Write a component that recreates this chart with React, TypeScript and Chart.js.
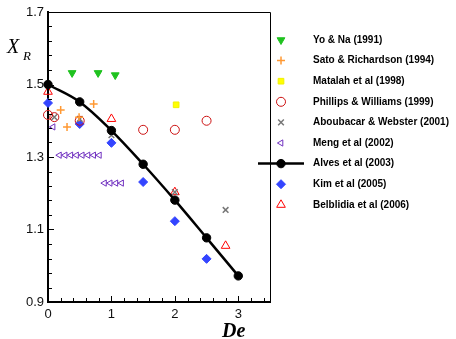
import React, { useEffect, useRef } from 'react';
import { Chart, registerables } from 'chart.js';
import { drawPoint } from 'chart.js/helpers';
Chart.register(...registerables);

const seriesLabels = [
  'Yo & Na (1991)',
  'Sato & Richardson (1994)',
  'Matalah et al (1998)',
  'Phillips & Williams (1999)',
  'Aboubacar & Webster (2001)',
  'Meng et al (2002)',
  'Alves et al (2003)',
  'Kim et al (2005)',
  'Belblidia et al (2006)',
];

const yoNaX = [0.38, 0.79, 1.06];
const yoNaY = [1.532, 1.532, 1.526];
const satoX = [0.2, 0.3, 0.49, 0.72];
const satoY = [1.43, 1.383, 1.41, 1.446];
const matalahX = [2.02];
const matalahY = [1.444];
const phillipsX = [0.0, 0.1, 0.5, 1.5, 2.0, 2.5];
const phillipsY = [1.416, 1.41, 1.4, 1.375, 1.375, 1.4];
const aboubacarX = [0.1, 0.5, 1.0, 2.0, 2.8];
const aboubacarY = [1.41, 1.405, 1.36, 1.203, 1.154];
const mengX = [0.08, 0.18, 0.27, 0.36, 0.45, 0.54, 0.63, 0.72, 0.81, 0.89, 0.98, 1.07, 1.16];
const mengY = [1.383, 1.305, 1.305, 1.305, 1.305, 1.305, 1.305, 1.305, 1.305, 1.228, 1.228, 1.228, 1.228];
const alvesX = [0, 0.5, 1.0, 1.5, 2.0, 2.5, 3.0];
const alvesY = [1.5, 1.452, 1.373, 1.28, 1.181, 1.077, 0.972];
const kimX = [0, 0.5, 1.0, 1.5, 2.0, 2.5];
const kimY = [1.449, 1.391, 1.339, 1.231, 1.123, 1.019];
const belblidiaX = [0, 1.0, 2.0, 2.8];
const belblidiaY = [1.48, 1.405, 1.203, 1.055];

const xTickValues = [0, 1, 2, 3];
const yTickValues = [0.9, 1.1, 1.3, 1.5, 1.7];

const pts = (xs: number[], ys: number[]) => xs.map((x, i) => ({ x, y: ys[i] }));

export default function App() {
  const ref = useRef<HTMLCanvasElement | null>(null);
  useEffect(() => {
    if (!ref.current) return;
    const common = { showLine: false, clip: false as any };
    const datasets: any[] = [
      { ...common, label: seriesLabels[0], data: pts(yoNaX, yoNaY), pointStyle: 'triangle', rotation: 180, radius: 4.5, backgroundColor: '#1fc21f', borderColor: '#1fc21f', borderWidth: 1 },
      { ...common, label: seriesLabels[1], data: pts(satoX, satoY), pointStyle: 'cross', radius: 4, backgroundColor: '#ff9933', borderColor: '#ff9933', borderWidth: 1.5 },
      { ...common, label: seriesLabels[2], data: pts(matalahX, matalahY), pointStyle: 'rect', radius: 4, backgroundColor: '#ffff00', borderColor: '#f0f000', borderWidth: 1 },
      { ...common, label: seriesLabels[3], data: pts(phillipsX, phillipsY), pointStyle: 'circle', radius: 4.5, backgroundColor: 'rgba(0,0,0,0)', borderColor: '#cc1111', borderWidth: 1 },
      { ...common, label: seriesLabels[4], data: pts(aboubacarX, aboubacarY), pointStyle: 'crossRot', radius: 4, backgroundColor: '#777777', borderColor: '#777777', borderWidth: 1.5 },
      { ...common, label: seriesLabels[5], data: pts(mengX, mengY), pointStyle: 'triangle', rotation: 270, radius: 3.6, backgroundColor: 'rgba(0,0,0,0)', borderColor: '#7030c0', borderWidth: 1 },
      { label: seriesLabels[6], data: pts(alvesX, alvesY), showLine: true, clip: false, tension: 0.35, pointStyle: 'circle', radius: 4.2, pointBorderWidth: 1, backgroundColor: '#000', borderColor: '#000', borderWidth: 2.5, order: -1, isLine: true },
      { ...common, label: seriesLabels[7], data: pts(kimX, kimY), pointStyle: 'rectRot', radius: 4.5, backgroundColor: '#3344ff', borderColor: '#3344ff', borderWidth: 1 },
      { ...common, label: seriesLabels[8], data: pts(belblidiaX, belblidiaY), pointStyle: 'triangle', radius: 5, backgroundColor: 'rgba(0,0,0,0)', borderColor: '#ff0000', borderWidth: 1 },
    ];

    const decor = {
      id: 'decor',
      afterDraw(chart: any) {
        const ctx = chart.ctx;
        const ca = chart.chartArea;
        const xs = chart.scales.x;
        const ys = chart.scales.y;
        ctx.save();
        ctx.strokeStyle = '#000';
        ctx.lineWidth = 1;
        ctx.beginPath();
        ctx.moveTo(ca.left, ca.top + 0.5);
        ctx.lineTo(ca.right + 0.5, ca.top + 0.5);
        ctx.lineTo(ca.right + 0.5, ca.bottom);
        ctx.stroke();
        for (let i = 0; i <= 17; i++) {
          const v = i * 0.2;
          const px = Math.round(xs.getPixelForValue(v)) + 0.5;
          const len = i % 5 === 0 ? 6 : 4;
          ctx.beginPath();
          ctx.moveTo(px, ca.bottom);
          ctx.lineTo(px, ca.bottom - len);
          ctx.stroke();
        }
        for (let i = 0; i <= 20; i++) {
          const v = 0.9 + i * 0.04;
          const py = Math.round(ys.getPixelForValue(v)) + 0.5;
          const len = i % 5 === 0 ? 6 : 4;
          ctx.beginPath();
          ctx.moveTo(ca.left, py);
          ctx.lineTo(ca.left + len, py);
          ctx.stroke();
        }
        ctx.fillStyle = '#000';
        ctx.textBaseline = 'alphabetic';
        ctx.textAlign = 'left';
        ctx.font = 'italic 20px "Liberation Serif"';
        ctx.fillText('X', 7, 53);
        ctx.font = 'italic 13px "Liberation Serif"';
        ctx.fillText('R', 23, 60);
        ctx.font = 'bold italic 20px "Liberation Serif"';
        ctx.fillText('De', 222, 337);
        const lx = 281;
        const tx = 313;
        chart.data.datasets.forEach((ds: any, i: number) => {
          const y = 40 + i * 20.6;
          ctx.save();
          if (ds.isLine) {
            ctx.strokeStyle = '#000';
            ctx.lineWidth = 2.5;
            ctx.beginPath();
            ctx.moveTo(258, y);
            ctx.lineTo(304, y);
            ctx.stroke();
          }
          ctx.fillStyle = ds.backgroundColor;
          ctx.strokeStyle = ds.borderColor;
          ctx.lineWidth = ds.isLine ? 1 : ds.borderWidth;
          drawPoint(ctx, { pointStyle: ds.pointStyle, rotation: ds.rotation || 0, radius: ds.radius, borderWidth: ds.isLine ? 1 : ds.borderWidth }, lx, y);
          ctx.restore();
          ctx.fillStyle = '#000';
          ctx.font = 'bold 10px "Liberation Sans"';
          ctx.textBaseline = 'middle';
          ctx.fillText(ds.label, tx, y);
        });
        ctx.restore();
      },
    };

    const chart = new Chart(ref.current, {
      type: 'scatter',
      data: { datasets },
      options: {
        animation: false,
        responsive: false,
        layout: { padding: { left: 0, right: 186, top: 12, bottom: 0 } },
        plugins: { legend: { display: false }, tooltip: { enabled: false } },
        scales: {
          x: {
            type: 'linear',
            min: 0,
            max: 3.5,
            afterBuildTicks: (s: any) => { s.ticks = xTickValues.map((v) => ({ value: v })); },
            afterFit: (s: any) => { s.height = 37; },
            grid: { display: false, drawTicks: false },
            border: { display: true, color: '#000', width: 2 },
            ticks: { padding: 5, color: '#111', font: { family: 'Liberation Sans', size: 13 }, maxRotation: 0, callback: (v: any) => String(v) },
          },
          y: {
            type: 'linear',
            min: 0.9,
            max: 1.7,
            afterBuildTicks: (s: any) => { s.ticks = yTickValues.map((v) => ({ value: v })); },
            afterFit: (s: any) => { s.width = 48; },
            grid: { display: false, drawTicks: false },
            border: { display: true, color: '#000', width: 2 },
            ticks: { padding: 4, color: '#111', font: { family: 'Liberation Sans', size: 13 }, callback: (v: any) => Number(v).toFixed(1) },
          },
        },
      } as any,
      plugins: [decor],
    });
    return () => chart.destroy();
  }, []);
  return (
    <div style={{ position: 'fixed', left: 0, top: 0, width: 456, height: 339, background: '#fff' }}>
      <canvas ref={ref} width={456} height={339} style={{ width: 456, height: 339 }} />
    </div>
  );
}
